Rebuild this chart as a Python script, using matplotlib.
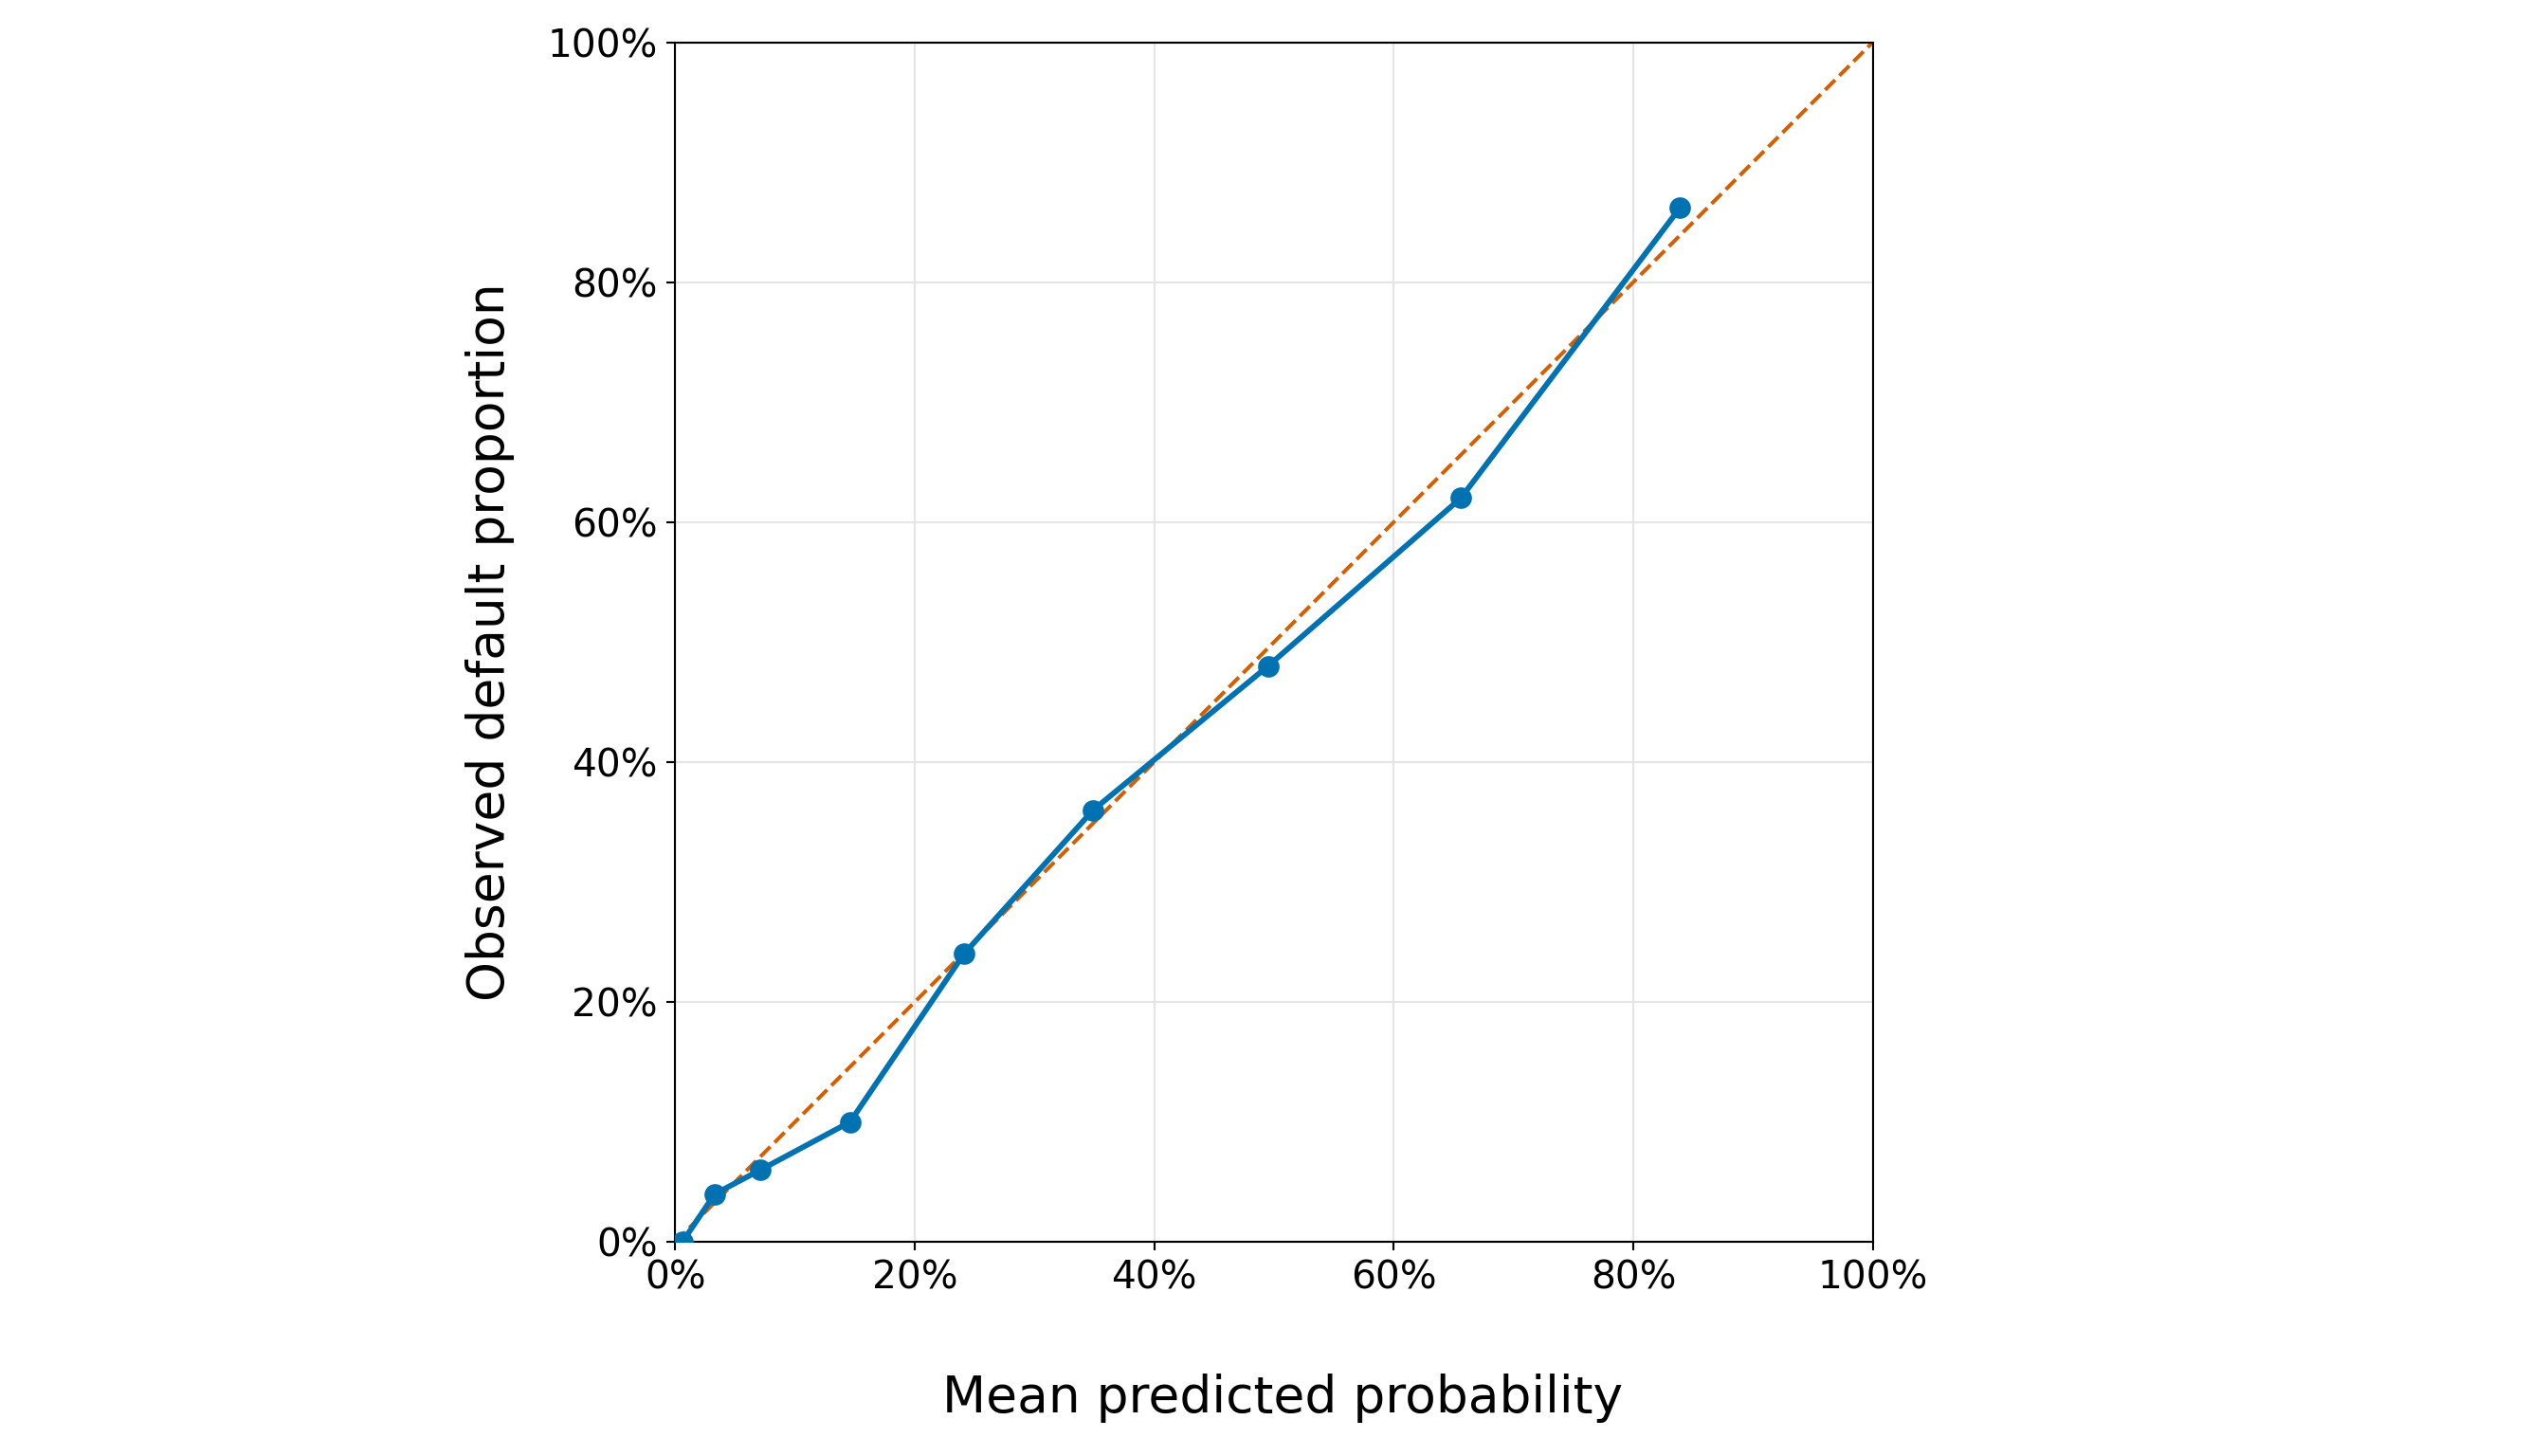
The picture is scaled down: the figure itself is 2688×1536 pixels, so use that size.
import matplotlib
matplotlib.use("Agg")
import matplotlib.pyplot as plt
import matplotlib.ticker as mtick

BLUE = "#0072B2"
ORANGE = "#D55E00"
GRID = "#E5E5E5"

# calibration bins: mean predicted probability vs observed default share
mean_predicted = [0.006, 0.033, 0.071, 0.146, 0.241, 0.349, 0.495, 0.656, 0.839]
observed_default = [0.0, 0.04, 0.06, 0.10, 0.24, 0.36, 0.48, 0.62, 0.862]
diag = [0.0, 1.0]
ticks = [0.0, 0.2, 0.4, 0.6, 0.8, 1.0]

plt.rcParams.update({
    "font.family": "DejaVu Sans",
    "font.size": 15,
})

fig = plt.figure(figsize=(14, 8), dpi=192)
ax = fig.add_axes([0.265, 0.147, 0.470, 0.824])

ax.plot(diag, diag, linestyle="--", color=ORANGE, linewidth=1.5, zorder=2)
ax.plot(mean_predicted, observed_default, marker="o", color=BLUE,
        linewidth=2.2, markersize=7.5, zorder=3)

ax.set_xlim(0, 1)
ax.set_ylim(0, 1)
ax.set_xticks(ticks)
ax.set_yticks(ticks)
ax.xaxis.set_major_formatter(mtick.PercentFormatter(xmax=1, decimals=0))
ax.yaxis.set_major_formatter(mtick.PercentFormatter(xmax=1, decimals=0))
ax.tick_params(labelsize=15.3)
ax.grid(True, color=GRID, linewidth=0.8)
ax.set_axisbelow(True)

ax.set_xlabel("Mean predicted probability", fontsize=20, labelpad=30)
ax.xaxis.label.set_x(0.507)
ax.set_ylabel("Observed default proportion", fontsize=20, labelpad=13)

fig.savefig("out.png", dpi=192, facecolor="white")
